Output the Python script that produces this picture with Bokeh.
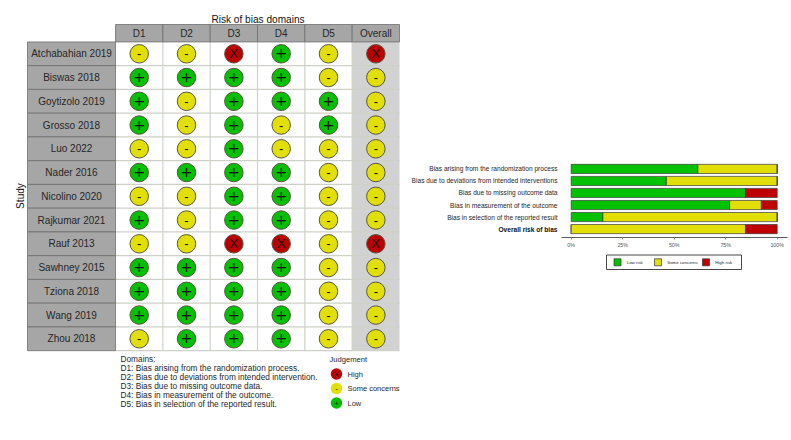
from bokeh.plotting import figure
from bokeh.layouts import row, column
from bokeh.embed import file_html
from bokeh.resources import INLINE
from bokeh.core.properties import value
from bokeh.models import Range1d, FactorRange, FixedTicker

studies = ["Atchabahian 2019", "Biswas 2018", "Goytizolo 2019", "Grosso 2018", "Luo 2022",
           "Nader 2016", "Nicolino 2020", "Rajkumar 2021", "Rauf 2013", "Sawhney 2015",
           "Tziona 2018", "Wang 2019", "Zhou 2018"]
domains = ["D1", "D2", "D3", "D4", "D5", "Overall"]
judgements = ["- - X + - X", "+ + + + - -", "+ - + + + -", "+ - + - + -",
              "- - + - - -", "+ + + + - -", "- - + + - -", "+ - + + - -", "- - X X - X",
              "+ + + + - -", "+ + + + - -", "+ + + + - -", "- + + + - -"]
domain_notes = ["Domains:", "D1: Bias arising from the randomization process.",
                "D2: Bias due to deviations from intended intervention.",
                "D3: Bias due to missing outcome data.",
                "D4: Bias in measurement of the outcome.",
                "D5: Bias in selection of the reported result."]
legend_names = ["High", "Some concerns", "Low"]
legend_syms = ["X", "-", "+"]

bias_labels = ["Bias arising from the randomization process",
               "Bias due to deviations from intended interventions",
               "Bias due to missing outcome data",
               "Bias in measurement of the outcome",
               "Bias in selection of the reported result",
               "Overall risk of bias"]
low_risk = [61.5, 46.2, 84.6, 76.9, 15.4, 0]
some_concerns = [38.5, 53.8, 0, 15.4, 84.6, 84.6]
high_risk = [0, 0, 15.4, 7.7, 0, 15.4]
pct_ticks = [0, 25, 50, 75, 100]
bar_legend = ["Low risk", "Some concerns", "High risk"]

GREEN, YELLOW, RED = "#02C100", "#E2DF07", "#BF0000"
FONT = value("Liberation Sans")
TXT = "#262626"

# ---------- traffic-light panel ----------
LW, H = 405, 440
colw, rowh, x0, y0 = 47.33, 23.75, 138.7, 53.3
left = figure(width=LW, height=H, output_backend="svg", toolbar_location=None, frame_align=False,
              x_range=Range1d(-x0 / colw, (LW - x0) / colw),
              y_range=Range1d((H - y0) / rowh, -y0 / rowh),
              min_border=0, min_border_left=0, min_border_right=0, min_border_top=0, min_border_bottom=0)
left.axis.visible = False
left.grid.visible = False
left.outline_line_color = None

X = lambda px: (px - x0) / colw
Y = lambda py: (py - y0) / rowh
nr, nc = len(studies), len(domains)

# overall column
left.quad(left=[nc - 1.5], right=[nc - 0.5], top=[-0.5], bottom=[nr - 0.5], fill_color="#D2D2D2", line_color=None)
# grid
left.segment(x0=[i + 0.5 for i in range(nc - 1)], x1=[i + 0.5 for i in range(nc - 1)],
             y0=[-0.5] * (nc - 1), y1=[nr - 0.5] * (nc - 1), line_color="#CDD2C8", line_width=1.2)
left.segment(x0=[-0.5] * nr, x1=[nc - 0.5] * nr, y0=[i + 0.5 for i in range(nr)], y1=[i + 0.5 for i in range(nr)],
             line_color="#CDD2C8", line_width=1.2)
# strips
left.quad(left=[i - 0.5 for i in range(nc)], right=[i + 0.5 for i in range(nc)],
          top=[Y(24)] * nc, bottom=[-0.5] * nc, fill_color="#A6A6A6", line_color="#6E6E6E", line_width=0.8)
left.quad(left=[X(27)] * nr, right=[-0.5] * nr, top=[i - 0.5 for i in range(nr)], bottom=[i + 0.5 for i in range(nr)],
          fill_color="#A6A6A6", line_color="#6E6E6E", line_width=0.8)

left.text(x=list(range(nc)), y=[Y(33)] * nc, text=domains, text_font=FONT, text_font_size="10px",
          text_align="center", text_baseline="middle", text_color=TXT)
left.text(x=[X(71)] * nr, y=list(range(nr)), text=studies, text_font=FONT, text_font_size="10px",
          text_align="center", text_baseline="middle", text_color=TXT)
left.text(x=[X(257.5)], y=[Y(19)], text=["Risk of bias domains"], text_font=FONT, text_font_size="10.1px",
          text_align="center", text_baseline="middle", text_color="#111111")
left.text(x=[X(20)], y=[Y(195.5)], text=["Study"], angle=[1.5708], text_font=FONT, text_font_size="10.1px",
          text_align="center", text_baseline="middle", text_color="#111111")

colors = {"+": GREEN, "-": YELLOW, "X": RED}
sizes = {"+": "19px", "-": "13px", "X": "13.5px"}
for sym in "+-X":
    xs, ys = [], []
    for r, line in enumerate(judgements):
        for c, j in enumerate(line.split()):
            if j == sym:
                xs.append(c)
                ys.append(r)
    left.scatter(xs, ys, size=18.5, fill_color=colors[sym], line_color="#55553F", line_width=1)
    left.text(xs, ys, text=[sym] * len(xs), text_font=FONT, text_font_size=sizes[sym],
              text_align="center", text_baseline="middle", text_color="#111111")

for i, t in enumerate(domain_notes):
    left.text(x=[X(120)], y=[Y(358.5 + 8.95 * i)], text=[t], text_font=FONT, text_font_size="8.3px",
              text_align="left", text_baseline="middle", text_color=TXT)

left.text(x=[X(329)], y=[Y(359)], text=["Judgement"], text_font=FONT, text_font_size="7.6px",
          text_align="left", text_baseline="middle", text_color=TXT)
for i, (n, s) in enumerate(zip(legend_names, legend_syms)):
    yy = Y(373.5 + 14.5 * i)
    left.scatter([X(336)], [yy], size=11.5, fill_color=colors[s], line_color=None)
    left.text([X(336)], [yy], text=[s], text_font=FONT, text_font_size="8px", text_align="center",
              text_baseline="middle", text_color="#222222")
    left.text([X(347)], [yy], text=[n], text_font=FONT, text_font_size="7.5px", text_align="left",
              text_baseline="middle", text_color=TXT)

# ---------- summary bars ----------
RW, OFF, BH = 386, 405, 250
ppu = 2.06
pct = lambda px: (px - 570.7) / ppu
bars = figure(width=RW, height=BH, output_backend="svg", toolbar_location=None, frame_align=False,
              x_range=Range1d(pct(OFF), pct(787)),
              y_range=FactorRange(factors=bias_labels[::-1], range_padding=0.2, range_padding_units="absolute"),
              min_border_left=0, min_border_right=RW - (787 - OFF), min_border_top=160, min_border_bottom=BH - 238)
bars.yaxis.visible = False
bars.grid.visible = False
bars.outline_line_color = None
xa = bars.xaxis[0]
xa.bounds = (pct(561), pct(787))
xa.ticker = FixedTicker(ticks=pct_ticks)
xa.major_label_overrides = {t: f"{t}%" for t in pct_ticks}
xa.axis_line_color = "#333333"
xa.axis_line_width = 0.8
xa.major_tick_line_color = "#888888"
xa.major_tick_in = 0
xa.major_tick_out = 2
xa.minor_tick_line_color = None
xa.major_label_text_font = "Liberation Sans"
xa.major_label_text_font_size = "5.3px"
xa.major_label_text_color = "#555555"
xa.major_label_standoff = 2

start_a = [0] * len(low_risk)
end_a = low_risk
end_b = [a + b for a, b in zip(low_risk, some_concerns)]
end_c = [a + b for a, b in zip(end_b, high_risk)]
kw = dict(y=bias_labels, height=0.76, line_color="#3A3A3A", line_width=0.7)
bars.hbar(left=start_a, right=end_a, fill_color=GREEN, **kw)
bars.hbar(left=end_a, right=end_b, fill_color=YELLOW, **kw)
bars.hbar(left=end_b, right=end_c, fill_color=RED, **kw)
lbl = dict(text_font=FONT, text_font_size="6.6px", text_align="right", text_baseline="middle")
bars.text(x=[pct(557)] * 5, y=bias_labels[:-1], text=bias_labels[:-1], text_color=TXT, **lbl)
bars.text(x=[pct(557)], y=bias_labels[-1:], text=bias_labels[-1:], text_color="#111111", text_font_style="bold", **lbl)

# ---------- bar legend ----------
legfig = figure(width=RW, height=H - BH, output_backend="svg", toolbar_location=None, frame_align=False,
                x_range=Range1d(OFF, OFF + RW), y_range=Range1d(H, BH),
                min_border=0, min_border_left=0, min_border_right=0, min_border_top=0, min_border_bottom=0)
legfig.axis.visible = False
legfig.grid.visible = False
legfig.outline_line_color = None
legfig.quad(left=[606], right=[741], top=[254.5], bottom=[269], fill_color="#FFFFFF", line_color="#333333", line_width=0.9)
swatches = [613.5, 654, 702]
legfig.quad(left=swatches, right=[s + 7 for s in swatches], top=[258.3] * 3, bottom=[265.3] * 3,
            fill_color=[GREEN, YELLOW, RED], line_color="#333333", line_width=0.7)
legfig.text(x=[s + 12.7 for s in swatches], y=[262] * 3, text=bar_legend, text_font=FONT, text_font_size="4.4px",
            text_align="left", text_baseline="middle", text_color=TXT)

open("out.html", "w").write(file_html(row(left, column(bars, legfig, spacing=0), spacing=0), INLINE))
